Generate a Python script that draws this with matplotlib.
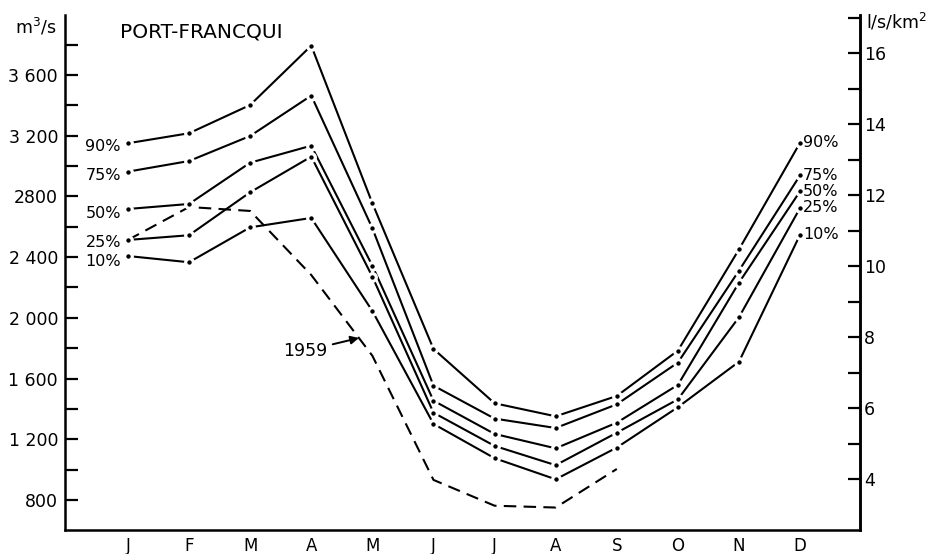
import matplotlib
matplotlib.use("Agg")
import matplotlib.pyplot as plt
from matplotlib.ticker import FixedLocator

# Data (m3/s)
months = ["J", "F", "M", "A", "M", "J", "J", "A", "S", "O", "N", "D"]
q90 = [3150, 3216, 3402, 3793, 2755, 1795, 1437, 1351, 1485, 1784, 2451, 3154]
q75 = [2963, 3033, 3198, 3464, 2590, 1553, 1336, 1274, 1430, 1705, 2311, 2939]
q50 = [2717, 2750, 3022, 3134, 2343, 1454, 1235, 1140, 1309, 1558, 2232, 2834]
q25 = [2513, 2544, 2827, 3062, 2271, 1375, 1156, 1029, 1243, 1463, 2004, 2724]
q10 = [2407, 2366, 2596, 2658, 2045, 1301, 1075, 936, 1145, 1411, 1711, 2548]
y1959 = [2513, 2730, 2704, 2282, 1750, 932, 762, 750, 1004]
labels = ["90%", "75%", "50%", "25%", "10%"]
series = [q90, q75, q50, q25, q10]

area_km2 = 234.0  # thousand km2, for l/s/km2 scale
left_ticks = [800, 1200, 1600, 2000, 2400, 2800, 3200, 3600]
left_labels = ["800", "1 200", "1 600", "2 000", "2 400", "2800", "3 200", "3 600"]
right_ticks = [4, 6, 8, 10, 12, 14, 16]

plt.rcParams["font.family"] = ["DejaVu Sans"]
fig = plt.figure(figsize=(9.33, 5.54), dpi=100)
ax = fig.add_axes([65 / 933, 24 / 554, 795 / 933, 515 / 554])

x = list(range(12))

# 1959 curve
ax.plot(x[:len(y1959)], y1959, color="black", lw=1.5, linestyle=(0, (6, 3.5)))

left_dy = [-2, -3, -3, -2, -4]
for vals, lab, dy in zip(series, labels, left_dy):
    ax.plot(x, vals, color="black", lw=1.5, marker="o", markersize=5.5,
            markerfacecolor="black", markeredgecolor="white", markeredgewidth=2.3)
    ax.annotate(lab, (x[0], vals[0]), xytext=(-5, dy), textcoords="offset points",
                ha="right", va="center", fontsize=11.5)
    ax.annotate(lab, (x[-1], vals[-1]), xytext=(2, 0), textcoords="offset points",
                ha="left", va="center", fontsize=11.5)

ax.annotate("1959", xy=(3.78, 1867), xytext=(2.9, 1782), fontsize=12.5,
            ha="center", va="center",
            arrowprops=dict(arrowstyle="-|>", color="black", lw=1.4,
                            shrinkA=2, shrinkB=0, mutation_scale=12))

ax.set_xlim(-1.03, 11.98)
ax.set_ylim(602, 3995)
ax.set_xticks(x)
ax.set_xticklabels(months, fontsize=12)
ax.tick_params(axis="x", length=0, pad=5)

ax.yaxis.set_major_locator(FixedLocator(left_ticks))
ax.set_yticklabels(left_labels, fontsize=12.5)
ax.yaxis.set_minor_locator(FixedLocator([1000, 1400, 1800, 2200, 2600, 3000, 3400, 3800]))
ax.tick_params(axis="y", which="both", direction="in", length=9, width=1.6, pad=5)

for s in ["left", "bottom", "right"]:
    ax.spines[s].set_linewidth(1.8)
ax.spines["top"].set_visible(False)

sec = ax.secondary_yaxis("right", functions=(lambda q: q / area_km2, lambda s: s * area_km2))
sec.set_yticks(right_ticks)
sec.yaxis.set_minor_locator(FixedLocator([5, 7, 9, 11, 13, 15, 17]))
sec.tick_params(which="both", direction="in", length=9, width=1.6, pad=3, labelsize=12.5)
sec.spines["right"].set_linewidth(1.8)

fig.text(15 / 933, 1 - 27 / 554, "m$^3$/s", fontsize=12.5, va="center", ha="left")
fig.text(866 / 933, 1 - 22 / 554, "l/s/km$^2$", fontsize=12.5, va="center", ha="left")
fig.text(120 / 933, 1 - 32 / 554, "PORT-FRANCQUI", fontsize=14.5, va="center", ha="left")

fig.savefig("out.png", dpi=100)
